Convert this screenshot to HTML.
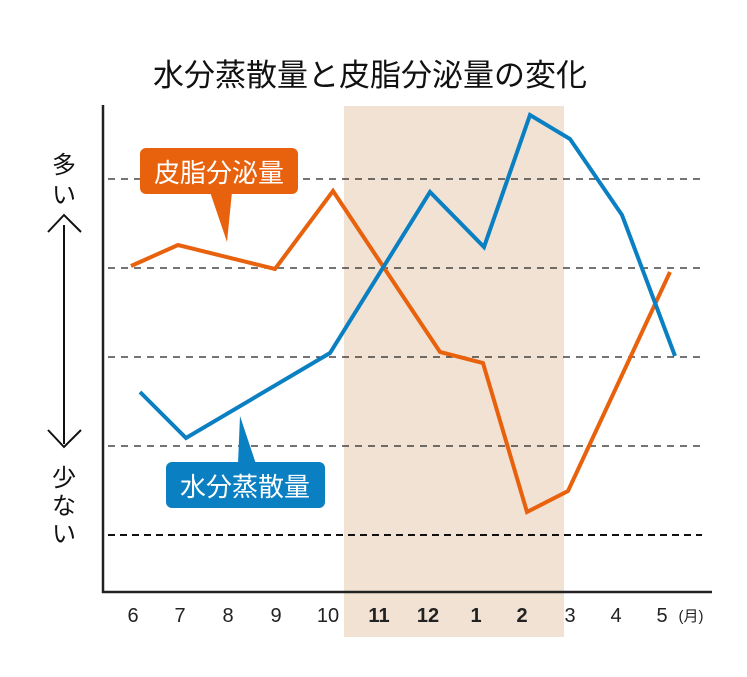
<!DOCTYPE html>
<html><head><meta charset="utf-8"><style>
body{margin:0;background:#fff}
svg text{font-family:"Liberation Sans","Noto Sans CJK JP",sans-serif}
</style></head><body>
<svg width="747" height="672" viewBox="0 0 747 672" xmlns="http://www.w3.org/2000/svg">
<rect width="747" height="672" fill="#fff"/>
<text x="370" y="86" font-size="31" text-anchor="middle" fill="#111">水分蒸散量と皮脂分泌量の変化</text>
<rect x="344" y="106" width="220" height="531" fill="#f2e2d4"/>
<g stroke="#222" stroke-width="1.3" stroke-dasharray="7,6">
<line x1="108" y1="179" x2="702" y2="179"/>
<line x1="108" y1="268" x2="702" y2="268"/>
<line x1="108" y1="357" x2="702" y2="357"/>
<line x1="108" y1="446" x2="702" y2="446"/>
</g>
<line x1="108" y1="535" x2="702" y2="535" stroke="#111" stroke-width="2" stroke-dasharray="7,5"/>
<line x1="103" y1="105" x2="103" y2="593" stroke="#222" stroke-width="2.5"/>
<line x1="102" y1="592" x2="712" y2="592" stroke="#222" stroke-width="2.5"/>
<polyline points="131,266 178,245 275,269 333,191 440,352 483,363 527,512 568,491 670,272" fill="none" stroke="#e8620e" stroke-width="4"/>
<polyline points="140,392 186,438 330,353 430,192 484,247 530,115 570,139 622,215 675,356" fill="none" stroke="#0a7fc2" stroke-width="4"/>
<rect x="140" y="148" width="158" height="46" rx="6" fill="#e8620e"/>
<polygon points="210,192 232,192 227,242" fill="#e8620e"/>
<text x="219" y="182" font-size="26" fill="#fff" text-anchor="middle">皮脂分泌量</text>
<rect x="166" y="462" width="159" height="46" rx="6" fill="#0a7fc2"/>
<polygon points="238,464 256,464 240,416" fill="#0a7fc2"/>
<text x="245" y="496" font-size="26" fill="#fff" text-anchor="middle">水分蒸散量</text>
<g fill="#111" font-size="24" text-anchor="middle">
<text x="64" y="173">多</text><text x="64" y="203">い</text>
<text x="64" y="486">少</text><text x="64" y="514">な</text><text x="64" y="542">い</text>
</g>
<g stroke="#111" stroke-width="2" fill="none">
<line x1="64" y1="225" x2="64" y2="444"/>
<polyline points="48,232 64,215 81,232"/>
<polyline points="48,430 64,447 81,430"/>
</g>
<g font-size="20" fill="#222" text-anchor="middle">
<text x="133" y="622">6</text><text x="180" y="622">7</text><text x="228" y="622">8</text><text x="276" y="622">9</text><text x="328" y="622">10</text>
<text x="379" y="622" font-weight="bold">11</text><text x="428" y="622" font-weight="bold">12</text><text x="476" y="622" font-weight="bold">1</text><text x="522" y="622" font-weight="bold">2</text>
<text x="570" y="622">3</text><text x="616" y="622">4</text><text x="662" y="622">5</text>
<text x="691" y="621" font-size="15">(月)</text>
</g>
</svg>
</body></html>
